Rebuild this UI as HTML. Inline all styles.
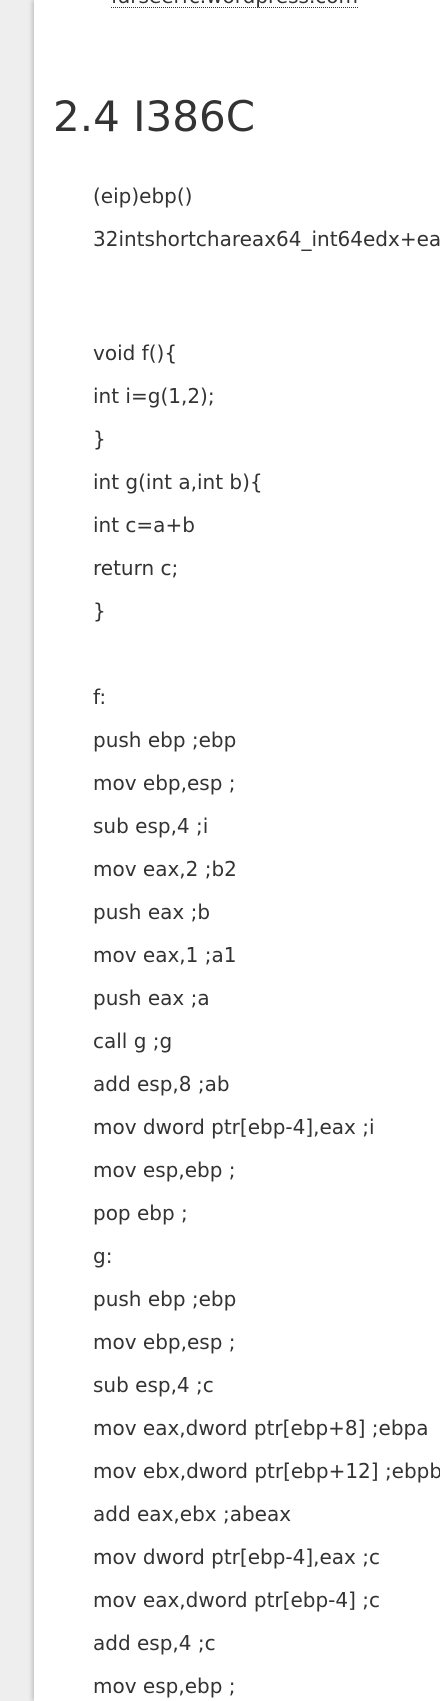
<!DOCTYPE html>
<html><head><meta charset="utf-8"><style>
html,body{margin:0;padding:0;width:440px;height:1701px;overflow:hidden;}
body{background:#eeeeee;position:relative;font-family:"DejaVu Sans","Liberation Sans",sans-serif;color:#333;}
#panel{position:absolute;left:34px;top:0;width:406px;height:1701px;background:#fff;box-shadow:-2px 0 4px rgba(0,0,0,0.18);}
.l{position:absolute;left:93px;height:43px;line-height:43px;font-size:20px;white-space:nowrap;}
#link{position:absolute;left:111px;top:-15px;font-size:20px;line-height:22px;border-bottom:1px dotted #333;white-space:nowrap;}
h2{position:absolute;left:53px;top:92px;margin:0;font-size:42px;font-weight:normal;line-height:50px;white-space:nowrap;}
</style></head><body>
<div id="panel"></div>
<div id="link">farseerfc.wordpress.com</div>
<h2>2.4 I386C</h2>
<div class="l" style="top:175px">(eip)ebp()</div>
<div class="l" style="top:218px">32intshortchareax64_int64edx+eax</div>
<div class="l" style="top:332px">void f(){</div>
<div class="l" style="top:375px">int i=g(1,2);</div>
<div class="l" style="top:418px">}</div>
<div class="l" style="top:461px">int g(int a,int b){</div>
<div class="l" style="top:504px">int c=a+b</div>
<div class="l" style="top:547px">return c;</div>
<div class="l" style="top:590px">}</div>
<div class="l" style="top:676px">f:</div>
<div class="l" style="top:719px">push ebp ;ebp</div>
<div class="l" style="top:762px">mov ebp,esp ;</div>
<div class="l" style="top:805px">sub esp,4 ;i</div>
<div class="l" style="top:848px">mov eax,2 ;b2</div>
<div class="l" style="top:891px">push eax ;b</div>
<div class="l" style="top:934px">mov eax,1 ;a1</div>
<div class="l" style="top:977px">push eax ;a</div>
<div class="l" style="top:1020px">call g ;g</div>
<div class="l" style="top:1063px">add esp,8 ;ab</div>
<div class="l" style="top:1106px">mov dword ptr[ebp-4],eax ;i</div>
<div class="l" style="top:1149px">mov esp,ebp ;</div>
<div class="l" style="top:1192px">pop ebp ;</div>
<div class="l" style="top:1235px">g:</div>
<div class="l" style="top:1278px">push ebp ;ebp</div>
<div class="l" style="top:1321px">mov ebp,esp ;</div>
<div class="l" style="top:1364px">sub esp,4 ;c</div>
<div class="l" style="top:1407px">mov eax,dword ptr[ebp+8] ;ebpa</div>
<div class="l" style="top:1450px">mov ebx,dword ptr[ebp+12] ;ebpb</div>
<div class="l" style="top:1493px">add eax,ebx ;abeax</div>
<div class="l" style="top:1536px">mov dword ptr[ebp-4],eax ;c</div>
<div class="l" style="top:1579px">mov eax,dword ptr[ebp-4] ;c</div>
<div class="l" style="top:1622px">add esp,4 ;c</div>
<div class="l" style="top:1665px">mov esp,ebp ;</div>
</body></html>
